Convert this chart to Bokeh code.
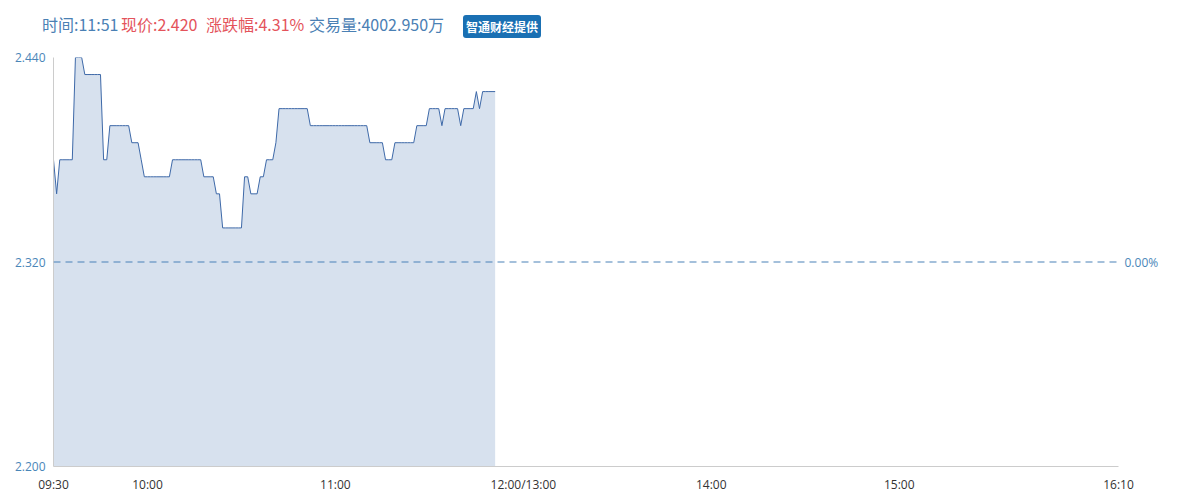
from bokeh.plotting import figure
from bokeh.layouts import column
from bokeh.models import FixedTicker, LinearAxis, Span, Range1d, NumeralTickFormatter, Div
from bokeh.embed import file_html
from bokeh.resources import INLINE

# minute-by-minute price since 09:30 (index = minutes of trading session)
prices = [
    2.38, 2.36, 2.38, 2.38, 2.38, 2.38, 2.38, 2.44, 2.44, 2.44,
    2.43, 2.43, 2.43, 2.43, 2.43, 2.43, 2.38, 2.38, 2.40, 2.40,
    2.40, 2.40, 2.40, 2.40, 2.40, 2.39, 2.39, 2.39, 2.38, 2.37,
    2.37, 2.37, 2.37, 2.37, 2.37, 2.37, 2.37, 2.37, 2.38, 2.38,
    2.38, 2.38, 2.38, 2.38, 2.38, 2.38, 2.38, 2.38, 2.37, 2.37,
    2.37, 2.37, 2.36, 2.36, 2.34, 2.34, 2.34, 2.34, 2.34, 2.34,
    2.34, 2.37, 2.37, 2.36, 2.36, 2.36, 2.37, 2.37, 2.38, 2.38,
    2.38, 2.39, 2.41, 2.41, 2.41, 2.41, 2.41, 2.41, 2.41, 2.41,
    2.41, 2.41, 2.40, 2.40, 2.40, 2.40, 2.40, 2.40, 2.40, 2.40,
    2.40, 2.40, 2.40, 2.40, 2.40, 2.40, 2.40, 2.40, 2.40, 2.40,
    2.40, 2.39, 2.39, 2.39, 2.39, 2.39, 2.38, 2.38, 2.38, 2.39,
    2.39, 2.39, 2.39, 2.39, 2.39, 2.39, 2.40, 2.40, 2.40, 2.40,
    2.41, 2.41, 2.41, 2.41, 2.40, 2.41, 2.41, 2.41, 2.41, 2.41,
    2.40, 2.41, 2.41, 2.41, 2.41, 2.42, 2.41, 2.42, 2.42, 2.42,
    2.42, 2.42,
]
minutes = list(range(len(prices)))

prev_close = 2.32
y_min, y_max = 2.20, 2.44
y_ticks = [2.200, 2.320, 2.440]
session_minutes = 340
x_tick_pos = [0, 30, 90, 150, 210, 270, 340]
x_tick_labels = ["09:30", "10:00", "11:00", "12:00/13:00", "14:00", "15:00", "16:10"]

header_parts = ["时间:11:51", "现价:2.420", "涨跌幅:4.31%", "交易量:4002.950万"]
header_badge = "智通财经提供"

BLUE_TXT = "#4a80b4"
RED_TXT = "#e4535b"
AXIS_BLUE = "#4a86b8"
FONT = "'Noto Sans CJK SC', 'Noto Sans', sans-serif"
W = 1171

# ---------- header strip (HTML text) ----------
hdr_x = [42, 121, 206, 309]
hdr_col = [BLUE_TXT, RED_TXT, RED_TXT, BLUE_TXT]
spans = "".join(
    f'<span style="position:absolute;left:{xx}px;top:13px;line-height:22px;'
    f'font-size:16px;color:{col};white-space:nowrap;">{txt}</span>'
    for txt, xx, col in zip(header_parts, hdr_x, hdr_col)
)
badge = (f'<span style="position:absolute;left:463px;top:15px;width:78px;height:23px;'
         f'line-height:23px;text-align:center;font-size:12px;font-weight:bold;color:#ffffff;'
         f'background:#1a70b3;border-radius:3px;white-space:nowrap;">{header_badge}</span>')
hdr = Div(text=f'<div style="position:relative;width:{W}px;height:49px;font-family:{FONT};">'
               f'{spans}{badge}</div>',
          width=W, height=49, margin=(0, 0, 0, 0))

# ---------- price chart ----------
p = figure(width=W, height=446, output_backend="svg", toolbar_location=None,
           x_range=Range1d(0, session_minutes), y_range=Range1d(y_min, y_max),
           min_border_left=53, min_border_right=53, min_border_top=8, min_border_bottom=29,
           x_axis_location=None, y_axis_location=None)
p.outline_line_color = None
p.xgrid.visible = False
p.ygrid.visible = False

p.varea(x=minutes, y1=[y_min] * len(prices), y2=prices, fill_color="#d7e1ee", fill_alpha=1.0)
p.line(x=minutes, y=prices, line_color="#3e69a8", line_width=1)

p.add_layout(Span(location=prev_close, dimension="width", line_color="#4b82b8",
                  line_dash="7 5", line_width=1.2))

yax = LinearAxis(ticker=FixedTicker(ticks=y_ticks), formatter=NumeralTickFormatter(format="0.000"))
yax.axis_line_color = "#cccccc"
yax.major_tick_line_color = None
yax.minor_tick_line_color = None
yax.major_tick_out = 0
yax.major_label_standoff = 8
yax.major_label_text_color = AXIS_BLUE
yax.major_label_text_font = "Open Sans"
yax.major_label_text_font_size = "12px"
p.add_layout(yax, "left")

rax = LinearAxis(ticker=FixedTicker(ticks=[prev_close]), major_label_overrides={prev_close: "0.00%"})
rax.axis_line_color = None
rax.major_tick_line_color = None
rax.minor_tick_line_color = None
rax.major_tick_out = 0
rax.major_label_standoff = 6
rax.major_label_text_color = AXIS_BLUE
rax.major_label_text_font = "Open Sans"
rax.major_label_text_font_size = "12px"
p.add_layout(rax, "right")

xax = LinearAxis(ticker=FixedTicker(ticks=x_tick_pos),
                 major_label_overrides={t: l for t, l in zip(x_tick_pos, x_tick_labels)})
xax.axis_line_color = "#cccccc"
xax.major_tick_line_color = None
xax.minor_tick_line_color = None
xax.major_tick_out = 0
xax.major_label_standoff = 9
xax.major_label_text_color = "#333333"
xax.major_label_text_font = "Open Sans"
xax.major_label_text_font_size = "12px"
p.add_layout(xax, "below")

layout = column(hdr, p, spacing=0)
open("out.html", "w").write(file_html(layout, INLINE))
